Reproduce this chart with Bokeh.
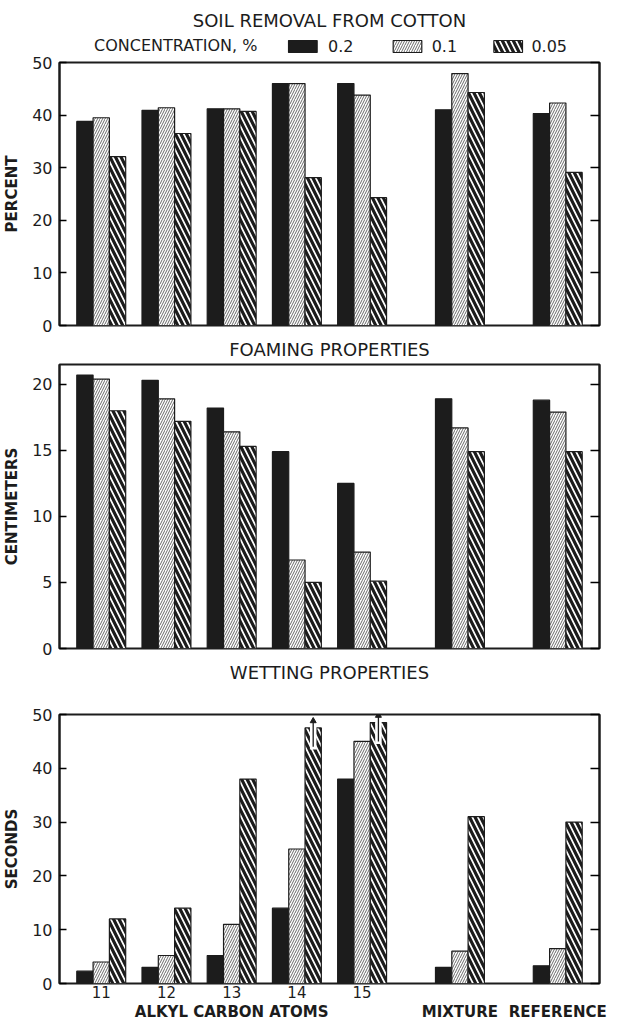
from bokeh.plotting import figure
from bokeh.models import (FactorRange, Range1d, LinearAxis, FixedTicker,
                          ColumnDataSource, Title)
from bokeh.core.properties import value
from bokeh.transform import dodge
from bokeh.layouts import column
from bokeh.embed import file_html
from bokeh.resources import INLINE

# ---------------- data ----------------
groups = ["ALKYL CARBON ATOMS"] * 5 + ["MIXTURE", "REFERENCE"]
subgroups = ["11", "12", "13", "14", "15", "", ""]
concentrations = ["0.2", "0.1", "0.05"]
legend_title = "CONCENTRATION, %"

soil_02 = [38.8, 40.9, 41.2, 46.0, 46.0, 41.0, 40.3]
soil_01 = [39.5, 41.4, 41.2, 46.0, 43.8, 47.9, 42.3]
soil_005 = [32.1, 36.5, 40.7, 28.1, 24.3, 44.3, 29.1]

foam_02 = [20.7, 20.3, 18.2, 14.9, 12.5, 18.9, 18.8]
foam_01 = [20.4, 18.9, 16.4, 6.7, 7.3, 16.7, 17.9]
foam_005 = [18.0, 17.2, 15.3, 5.0, 5.1, 14.9, 14.9]

wet_02 = [2.3, 3.0, 5.2, 14.0, 38.0, 3.0, 3.3]
wet_01 = [4.0, 5.2, 11.0, 25.0, 45.0, 6.0, 6.5]
wet_005 = [12.0, 14.0, 38.0, 47.5, 48.5, 31.0, 30.0]
wet_005_offscale = [False, False, False, True, True, False, False]

titles = ["SOIL REMOVAL FROM COTTON", "FOAMING PROPERTIES", "WETTING PROPERTIES"]
ylabels = ["PERCENT", "CENTIMETERS", "SECONDS"]
ymaxes = [50, 21.5, 50]
yticks = [[0, 10, 20, 30, 40, 50], [0, 5, 10, 15, 20], [0, 10, 20, 30, 40, 50]]

# ---------------- style ----------------
FONT = "DejaVu Sans"
INK = "#1c1c1c"
factors = list(zip(groups, subgroups))
xr = FactorRange(factors=factors, factor_padding=0, group_padding=0.5,
                 range_padding=0.14, range_padding_units="absolute")

styles = [
    dict(fill_color=INK, line_color=INK),
    dict(fill_color="white", line_color=INK, hatch_pattern="right_diagonal_line",
         hatch_color="#444444", hatch_scale=5, hatch_weight=0.8),
    dict(fill_color="white", line_color=INK, hatch_pattern="left_diagonal_line",
         hatch_color=INK, hatch_scale=11, hatch_weight=3.2),
]
offsets = [-0.25, 0.0, 0.25]

# layout of the header / caption strips (page pixel positions)
FRAME_X0, FRAME_X1 = 60, 607
LEG_CAPTION_X = 95
LEG_SWATCH_X = [306.5, 412.5, 514.5]
LEG_LABEL_X = [332, 437, 538]
LEG_Y = 8


def strip(height, top, ymax):
    s = figure(x_range=Range1d(FRAME_X0, FRAME_X1), y_range=Range1d(0, ymax), width=610,
               height=height, output_backend="svg", toolbar_location=None,
               x_axis_location=None, y_axis_location=None,
               min_border_left=52, min_border_right=11, min_border_top=top, min_border_bottom=0)
    s.outline_line_color = None
    s.grid.visible = False
    return s


# ---------------- header: title + legend ----------------
head = strip(54, 32, 22)
head.add_layout(Title(text=titles[0], align="center", vertical_align="top",
                      text_font=FONT, text_font_size="18px",
                      text_font_style="normal", text_color=INK, standoff=0), "above")
head.text(x=[LEG_CAPTION_X], y=[LEG_Y + 1], text=[legend_title], text_font=value(FONT),
          text_font_size="16px", text_baseline="middle", text_align="left", text_color=INK)
for k, c in enumerate(concentrations):
    head.rect(x=[LEG_SWATCH_X[k]], y=[LEG_Y], width=29, height=12, line_width=1.2, **styles[k])
head.text(x=LEG_LABEL_X, y=[LEG_Y + 1] * 3, text=concentrations, text_font=value(FONT),
          text_font_size="16px", text_baseline="middle", text_align="left", text_color=INK)

# ---------------- caption strip for the wetting panel ----------------
mid = strip(30, 0, 30)
mid.text(x=[(FRAME_X0 + FRAME_X1) / 2], y=[16], text=[titles[2]], text_font=value(FONT),
         text_font_size="18px", text_baseline="middle", text_align="center", text_color=INK)


def make_fig(idx, height, top, bottom, series, show_x, title=None, standoff=0):
    p = figure(x_range=xr, y_range=Range1d(0, ymaxes[idx]), width=610, height=height,
               output_backend="svg", toolbar_location=None,
               x_axis_location="below" if show_x else None,
               min_border_left=52, min_border_right=11,
               min_border_top=top, min_border_bottom=bottom)
    p.background_fill_color = "white"
    p.border_fill_color = "white"
    p.outline_line_color = INK
    p.outline_line_width = 2
    p.grid.visible = False
    if title:
        p.add_layout(Title(text=title, align="center", vertical_align="top",
                           text_font=FONT, text_font_size="18px",
                           text_font_style="normal", text_color=INK, standoff=standoff), "above")

    src = ColumnDataSource(dict(x=factors, v0=series[0], v1=series[1], v2=series[2]))
    rs = []
    for k in range(3):
        r = p.vbar(x=dodge("x", offsets[k], range=xr), top="v%d" % k, width=0.25,
                   source=src, line_width=1.2, **styles[k])
        rs.append(r)

    ya = p.yaxis[0]
    ya.ticker = FixedTicker(ticks=yticks[idx])
    ya.major_tick_in = 7
    ya.major_tick_out = 0
    ya.minor_tick_line_color = None
    ya.major_tick_line_width = 1.5
    ya.axis_line_color = INK
    ya.axis_line_width = 2
    ya.major_label_standoff = 7
    ya.major_label_text_font = FONT
    ya.major_label_text_font_size = "16px"
    ya.major_label_text_color = INK
    ya.axis_label = ylabels[idx]
    ya.axis_label_text_font = FONT
    ya.axis_label_text_font_size = "15px"
    ya.axis_label_text_font_style = "bold"
    ya.axis_label_text_color = INK
    ya.axis_label_standoff = 8

    ra = LinearAxis(ticker=FixedTicker(ticks=yticks[idx]), major_tick_in=9, major_tick_out=0,
                    major_tick_line_width=1.5, minor_tick_line_color=None,
                    axis_line_color=INK, axis_line_width=2,
                    major_label_overrides={t: "" for t in yticks[idx]},
                    major_label_standoff=0)
    p.add_layout(ra, "right")

    if show_x:
        xa = p.xaxis[0]
        xa.major_tick_line_color = None
        xa.major_tick_in = 0
        xa.major_tick_out = 0
        xa.axis_line_color = None
        xa.separator_line_color = None
        xa.axis_label_standoff = 0
        xa.major_label_text_font = FONT
        xa.major_label_text_font_size = "15px"
        xa.major_label_text_color = INK
        xa.major_label_standoff = 2
        xa.group_text_font = FONT
        xa.group_text_font_size = "15px"
        xa.group_text_font_style = "bold"
        xa.group_text_color = INK
    return p, rs


p1, rs1 = make_fig(0, 281, 8, 10, [soil_02, soil_01, soil_005], False)
p2, rs2 = make_fig(1, 323, 29, 10, [foam_02, foam_01, foam_005], False, titles[1], 6)
p3, rs3 = make_fig(2, 339, 26, 44, [wet_02, wet_01, wet_005], True)

# off-scale markers on the wetting panel
off_x = [f for f, o in zip(factors, wet_005_offscale) if o]
off_v = [v for v, o in zip(wet_005, wet_005_offscale) if o]
osrc = ColumnDataSource(dict(x=off_x, notch_bot=[v - 4 for v in off_v], notch_top=[v + 0.5 for v in off_v],
                             a0=[v - 3.5 for v in off_v], a1=[v + 1.3 for v in off_v]))
xd = dodge("x", 0.25, range=xr)
p3.vbar(x=xd, bottom="notch_bot", top="notch_top", width=0.1, source=osrc,
        fill_color="white", line_color=None)
p3.segment(x0=xd, y0="a0", x1=xd, y1="a1", source=osrc, line_color=INK, line_width=1.3)
p3.scatter(x=xd, y="a1", source=osrc, marker="triangle", size=6, fill_color=INK, line_color=INK)

layout = column(head, p1, p2, mid, p3, spacing=0)
open("out.html", "w").write(file_html(layout, INLINE))
